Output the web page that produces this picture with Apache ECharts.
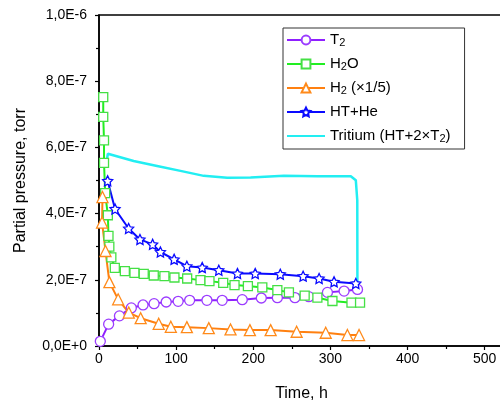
<!DOCTYPE html>
<html>
<head>
<meta charset="utf-8">
<script src="https://cdn.jsdelivr.net/npm/echarts@6/dist/echarts.min.js"></script>
<style>html,body{margin:0;padding:0;background:#fff}#c{width:500px;height:401px}</style>
</head>
<body>
<div id="c"></div>
<script>
// values in units of 1e-7 torr; time in hours
const yTickLabels = ["0,0E+0","2,0E-7","4,0E-7","6,0E-7","8,0E-7","1,0E-6"];
const xTickLabels = ["0","100","200","300","400","500"];
const seriesNames = ["T2","H2O","H2 (×1/5)","HT+He","Tritium (HT+2×T2)"];

const t2 = [[1.7,0.14],[12.5,0.66],[26.5,0.91],[41.9,1.15],[57.1,1.24],[71.4,1.28],[87.1,1.33],[102.6,1.35],[117.5,1.38],[139.9,1.38],[159.7,1.38],[185.7,1.40],[210.4,1.45],[231.2,1.46],[254.0,1.46],[272.0,1.49],[296.1,1.62],[317.7,1.66],[335.1,1.71]];
const h2o = [[5.5,7.52],[5.5,6.92],[6.5,6.21],[6.5,5.53],[8,4.62],[11.5,3.95],[12.3,3.33],[13.4,3.00],[16,2.68],[20.5,2.36],[33.5,2.26],[46,2.21],[58,2.18],[71,2.13],[84.8,2.11],[97.8,2.07],[114.3,2.04],[131.6,1.99],[143.2,1.96],[161,1.91],[175.7,1.84],[193,1.81],[211.7,1.77],[231.2,1.69],[246.2,1.62],[266.6,1.52],[283.1,1.46],[302.6,1.36],[327.3,1.31],[338.4,1.31]];
const h2 = [[4.5,4.50],[4,3.73],[8.4,2.87],[13.5,1.93],[24.8,1.41],[38.6,1.01],[54,0.84],[77.4,0.67],[93.1,0.58],[113.9,0.57],[142.3,0.54],[170.5,0.50],[195.6,0.48],[222.5,0.48],[256.2,0.43],[293.9,0.40],[322,0.33],[337.1,0.33]];
const htHe = [[11.2,4.99],[20.8,4.14],[38.4,3.55],[53.1,3.22],[69.5,3.07],[79.6,2.84],[97.4,2.62],[113.9,2.41],[133.8,2.37],[155.3,2.29],[179.5,2.19],[202.5,2.19],[235,2.17],[264.6,2.11],[285.3,2.04],[304.7,1.94],[332.9,1.89]];
const tritium = [[8.8,5.43],[11.5,5.81],[13.5,5.79],[44.9,5.59],[75.3,5.44],[105.6,5.29],[135.8,5.14],[166.2,5.08],[196.5,5.09],[239.7,5.14],[283.1,5.13],[326.4,5.13],[332.9,5.01],[334.8,4.40],[335,1.73]];

const FONT = "'Liberation Sans', Arial, sans-serif";
const star = 'path://M0,-10 L2.94,-4.05 9.51,-3.09 4.76,1.55 5.88,8.09 0,5 -5.88,8.09 -4.76,1.55 -9.51,-3.09 -2.94,-4.05 Z';

function mk(name, data, color, symbol, size, border, lw) {
  return {
    name: name, type: 'line', data: data,
    symbol: symbol, symbolSize: size, showSymbol: symbol !== 'none',
    lineStyle: {color: color, width: lw},
    itemStyle: {color: symbol === 'none' ? color : '#fff', borderColor: border, borderWidth: 1.3},
    emphasis: {disabled: true}, animation: false, z: 2
  };
}

const legendRich = {
  sub: {fontSize: 11, verticalAlign: 'bottom', padding: [8,0,0,0], fontFamily: FONT, color: '#000'}
};
function legendFmt(n) {
  if (n === 'T2') return 'T{sub|2}';
  if (n === 'H2O') return 'H{sub|2}O';
  if (n === 'H2 (×1/5)') return 'H{sub|2} (×1/5)';
  if (n === 'Tritium (HT+2×T2)') return 'Tritium (HT+2×T{sub|2})';
  return n;
}

const legendData = seriesNames.map(function (n, i) {
  return i === 4 ? {name: n, itemStyle: {color: 'rgba(0,0,0,0)', borderColor: 'rgba(0,0,0,0)', borderWidth: 0}} : n;
});

const chart = echarts.init(document.getElementById('c'), null, {renderer: 'canvas'});
chart.setOption({
  animation: false,
  backgroundColor: '#fff',
  grid: {left: 99, top: 15, right: -4, bottom: 55, show: true, borderColor: '#000', borderWidth: 1.5,
         containLabel: false, outerBoundsMode: 'none'},
  legend: {
    orient: 'vertical', left: 283, top: 28, width: 186,
    padding: [4, 14, 5, 3], itemGap: 8, itemWidth: 38, itemHeight: 11,
    borderColor: '#333', borderWidth: 1, backgroundColor: '#fff',
    data: legendData,
    formatter: legendFmt,
    textStyle: {fontFamily: FONT, fontSize: 15, color: '#000', lineHeight: 16, rich: legendRich}
  },
  xAxis: {
    type: 'value', min: 0, max: 525, interval: 100,
    name: 'Time, h', nameLocation: 'middle', nameGap: 40,
    nameTextStyle: {fontFamily: FONT, fontSize: 16, color: '#000'},
    axisLine: {lineStyle: {color: '#000', width: 1.5}},
    axisTick: {inside: false, length: 4, lineStyle: {color: '#000', width: 1.2}},
    minorTick: {show: true, splitNumber: 2, length: 3, lineStyle: {color: '#000', width: 1.2}},
    axisLabel: {fontFamily: FONT, fontSize: 14, color: '#000', margin: 6, showMaxLabel: false,
      formatter: function (v) { const i = Math.round(v / 100); return (v % 100 === 0 && i < xTickLabels.length) ? xTickLabels[i] : ''; }},
    splitLine: {show: false}
  },
  yAxis: {
    type: 'value', min: 0, max: 10, interval: 2,
    name: 'Partial pressure, torr', nameLocation: 'middle', nameGap: 70,
    nameTextStyle: {fontFamily: FONT, fontSize: 16, color: '#000'},
    axisLine: {show: true, lineStyle: {color: '#000', width: 1.5}},
    axisTick: {show: true, inside: false, length: 4, lineStyle: {color: '#000', width: 1.2}},
    minorTick: {show: true, splitNumber: 2, length: 3, lineStyle: {color: '#000', width: 1.2}},
    axisLabel: {fontFamily: FONT, fontSize: 14, color: '#000', margin: 12,
      formatter: function (v) { return yTickLabels[Math.round(v / 2)]; }},
    splitLine: {show: false}
  },
  series: [
    mk(seriesNames[0], t2, '#8f1fff', 'circle', 10, '#9b3cff', 2),
    mk(seriesNames[1], h2o, '#22ee22', 'rect', 9, '#44e044', 2),
    mk(seriesNames[2], h2, '#ff8010', 'triangle', 11, '#ff8a1a', 2),
    mk(seriesNames[3], htHe, '#0a0aff', star, 10, '#0a0aff', 2),
    mk(seriesNames[4], tritium, '#22eef2', 'none', 0, '#22eef2', 2.5)
  ]
});
</script>
</body>
</html>
